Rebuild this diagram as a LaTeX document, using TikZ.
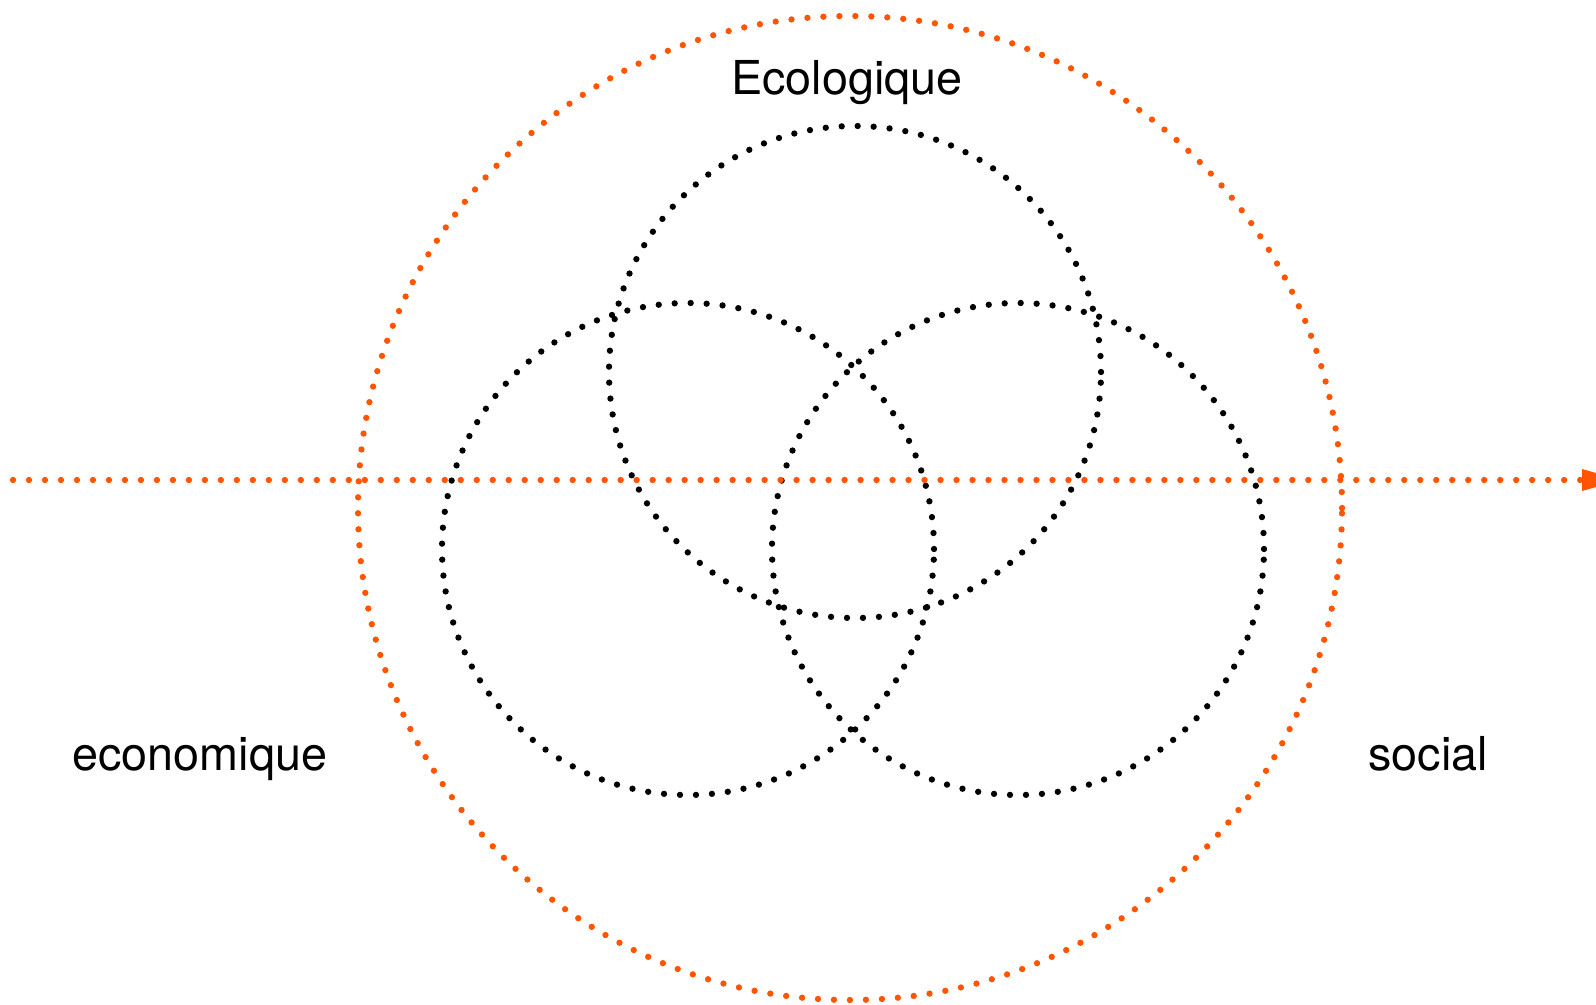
\documentclass[tikz,border=0pt]{standalone}
\usepackage{fontspec}
\setmainfont{TeX Gyre Heros}
\usetikzlibrary{arrows.meta}
\definecolor{orangeligne}{RGB}{255,85,0}

\begin{document}
\begin{tikzpicture}[
		pointille/.style={line width=1.8pt, line cap=round, dash pattern=on 0pt off 4.55pt},
		etiquette/.style={anchor=base, font=\fontsize{13.3}{16}\selectfont}
	]
					% Размер рисунка
					\useasboundingbox (0,0) rectangle (15.96,10.04);
					
					% Центры окружностей
					\coordinate (O) at (8.50,4.96);
					\coordinate (E) at (8.55,6.32);
					\coordinate (A) at (6.88,4.55);
					\coordinate (S) at (10.18,4.55);
					
					% Концы оси
					\coordinate (G) at (0.13,5.24);
					\coordinate (D) at (16.22,5.24);
					
					% Большая оранжевая окружность
					\draw[pointille, orangeligne] (O) circle (4.92);
					
					% Три чёрные окружности
					\draw[pointille, black] (E) circle (2.46);
					\draw[pointille, black] (A) circle (2.46);
					\draw[pointille, black] (S) circle (2.46);
					
					% Ось со стрелкой
					\draw[pointille, orangeligne, -{Triangle[length=0.40cm, width=0.20cm]}] (G) -- (D);
					
					% Подписи
					\node[etiquette] (eco) at (8.47,9.09) {Ecologique};
					\node[etiquette] (econ) at (2.00,2.34) {economique};
					\node[etiquette] (soc) at (14.28,2.34) {social};
				\end{tikzpicture}
\end{document}
